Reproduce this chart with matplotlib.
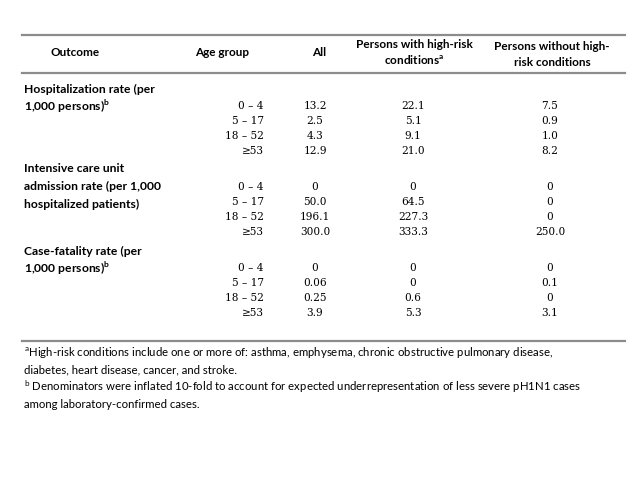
import matplotlib.pyplot as plt

# table content
outcomes = [
    ["Hospitalization rate (per", "1,000 persons)$^{\\mathregular{b}}$"],
    ["Intensive care unit", "admission rate (per 1,000", "hospitalized patients)"],
    ["Case-fatality rate (per", "1,000 persons)$^{\\mathregular{b}}$"],
]
age_groups = ["0 \u2013 4", "5 \u2013 17", "18 \u2013 52", "\u226553"]
all_vals = [["13.2", "2.5", "4.3", "12.9"],
            ["0", "50.0", "196.1", "300.0"],
            ["0", "0.06", "0.25", "3.9"]]
high_risk = [["22.1", "5.1", "9.1", "21.0"],
             ["0", "64.5", "227.3", "333.3"],
             ["0", "0", "0.6", "5.3"]]
no_risk = [["7.5", "0.9", "1.0", "8.2"],
           ["0", "0", "0", "250.0"],
           ["0", "0.1", "0", "3.1"]]
footnotes = [
    "$^{\\mathregular{a}}$High-risk conditions include one or more of: asthma, emphysema, chronic obstructive pulmonary disease,",
    "diabetes, heart disease, cancer, and stroke.",
    "$^{\\mathregular{b}}$ Denominators were inflated 10-fold to account for expected underrepresentation of less severe pH1N1 cases",
    "among laboratory-confirmed cases.",
]

sans = "Lato"
serif = "DejaVu Serif"
fs = 8.5
fs_lab = 8.7
fs_num = 7.6
fs_note = 8.2

fig = plt.figure(figsize=(6.4, 4.8), dpi=100)
ax = fig.add_axes([0, 0, 1, 1])
ax.set_xlim(0, 640)
ax.set_ylim(480, 0)
ax.axis("off")

# rules
for y in [35, 73, 341]:
    ax.plot([22, 625], [y, y], color="#8c8c8c", lw=1.6)

# header
hdr = dict(fontsize=fs, fontweight="bold", family=sans, ha="center", va="center")
ax.text(75, 52, "Outcome", **hdr)
ax.text(222, 52, "Age group", **hdr)
ax.text(319, 52, "All", **hdr)
ax.text(414, 44, "Persons with high-risk", **hdr)
ax.text(414, 60, "conditions$^{\\mathregular{a}}$", **hdr)
ax.text(552, 46, "Persons without high-", **hdr)
ax.text(552, 62, "risk conditions", **hdr)

label_y = [89, 169, 251]
data_y = [106, 187, 268]
row_h = 15.1
for g, lines in enumerate(outcomes):
    for i, line in enumerate(lines):
        ax.text(24, label_y[g] + i * 17.5, line, fontsize=fs_lab, fontweight="bold",
                family=sans, ha="left", va="center")
    for r in range(4):
        y = data_y[g] + r * row_h
        ax.text(264, y, age_groups[r], fontsize=fs_num, family=serif, ha="right", va="center")
        ax.text(315, y, all_vals[g][r], fontsize=fs_num, family=serif, ha="center", va="center")
        ax.text(413, y, high_risk[g][r], fontsize=fs_num, family=serif, ha="center", va="center")
        ax.text(550, y, no_risk[g][r], fontsize=fs_num, family=serif, ha="center", va="center")

for i, line in enumerate(footnotes):
    ax.text(24, 353 + i * 17, line, fontsize=fs_note, family=sans, ha="left", va="center")

fig.savefig("out.png", dpi=100)
